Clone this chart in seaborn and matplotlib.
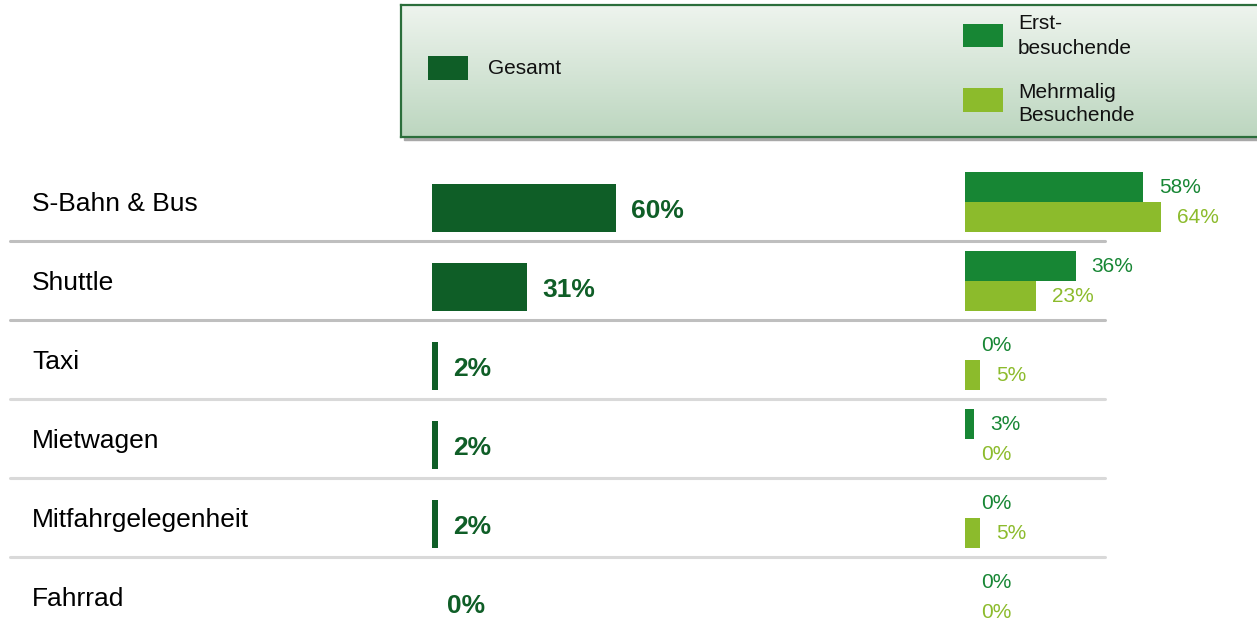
import numpy as np
import pandas as pd
import matplotlib.pyplot as plt
import matplotlib.transforms as mtransforms
from matplotlib.patches import Rectangle
from matplotlib.lines import Line2D
from matplotlib.colors import LinearSegmentedColormap
import seaborn as sns

# daten
kategorien = ['S-Bahn & Bus', 'Shuttle', 'Taxi', 'Mietwagen', 'Mitfahrgelegenheit', 'Fahrrad']
gesamt = [60, 31, 2, 2, 2, 0]
erst = [58, 36, 0, 3, 0, 0]
mehrmalig = [64, 23, 5, 0, 5, 0]
gruppen = ['Erstbesuchende', 'Mehrmalig Besuchende']

c_gesamt = '#0f5e27'
c_erst = '#178634'
c_mehr = '#8cbb2c'

W, H = 1257, 633
sns.set_theme(style='white')
plt.rcParams['font.family'] = ['Liberation Sans', 'DejaVu Sans']

fig = plt.figure(figsize=(W / 100, H / 100), dpi=100)


def px_axes(left, top, right, bottom):
    # axes in pixel coordinates of the figure
    return fig.add_axes([left / W, 1 - bottom / H, (right - left) / W, (bottom - top) / H])


px = 3.07  # pixel pro prozent

############ Gesamt ############
ax1 = px_axes(432, 160, 832, 633)
sns.barplot(x=gesamt, y=kategorien, orient='h', color=c_gesamt, width=0.61,
            linewidth=0, saturation=1, ax=ax1)
ax1.set_xlim(0, 400 / px)
ax1.set_ylim(5.38, -0.607)
ax1.axis('off')

for i, v in enumerate(gesamt):
    ax1.annotate(f'{v}%', (v, i + 0.04), xytext=(10.8, 0), textcoords='offset points',
                 va='center', ha='left', fontsize=19, fontweight='bold', color=c_gesamt,
                 annotation_clip=False)

trans = mtransforms.blended_transform_factory(fig.transFigure, ax1.transData)
for i, k in enumerate(kategorien):
    ax1.text(32 / W, i - 0.05, k, transform=trans, va='center', ha='left',
             fontsize=19, color='#000000')

# trennlinien
for i in range(len(kategorien) - 1):
    farbe = '#bfbfbf' if i < 2 else '#d9d9d9'
    ax1.add_line(Line2D([10 / W, 1105 / W], [i + 0.42] * 2, transform=trans,
                        color=farbe, lw=2.2, clip_on=False))

############ Erst / Mehrmalig ############
df = pd.DataFrame({'Kategorie': kategorien * 2,
                   'Gruppe': [gruppen[0]] * len(erst) + [gruppen[1]] * len(mehrmalig),
                   'Wert': erst + mehrmalig})
ax2 = px_axes(965, 160, 1257, 633)
sns.barplot(data=df, x='Wert', y='Kategorie', hue='Gruppe', hue_order=gruppen,
            palette=[c_erst, c_mehr], orient='h', width=0.76, linewidth=0,
            saturation=1, legend=False, ax=ax2)
ax2.set_xlim(0, 292 / px)
ax2.set_ylim(5.455, -0.532)
ax2.axis('off')

for i in range(len(kategorien)):
    for werte, farbe, dy in [(erst, c_erst, -0.19), (mehrmalig, c_mehr, 0.19)]:
        ax2.annotate(f'{werte[i]}%', (werte[i], i + dy + 0.01), xytext=(11.5, 0),
                     textcoords='offset points', va='center', ha='left', fontsize=15,
                     color=farbe, annotation_clip=False)

############ Legende ############
shadow = Rectangle((404 / W, 1 - 140 / H), (W - 404) / W, 132 / H,
                   transform=fig.transFigure, color='#a8a8a8', zorder=-1)
fig.add_artist(shadow)

lg = px_axes(401, 5, 1262, 137)
grad = np.linspace(0, 1, 256).reshape(-1, 1)
cmap = LinearSegmentedColormap.from_list('lg', ['#eef4ee', '#bcd6bf'])
lg.imshow(grad, aspect='auto', cmap=cmap, extent=[0, 861, 132, 0])
lg.set_xlim(0, 861)
lg.set_ylim(132, 0)
lg.set_xticks([])
lg.set_yticks([])
for s in lg.spines.values():
    s.set_color('#2b6e3b')
    s.set_linewidth(1.6)

lg.add_patch(Rectangle((27, 51), 40, 24, color=c_gesamt, lw=0))
lg.text(87, 64, 'Gesamt', va='center', ha='left', fontsize=15, color='#111111')
lg.add_patch(Rectangle((562, 19), 40, 23, color=c_erst, lw=0))
lg.text(617, 31, 'Erst-\nbesuchende', va='center', ha='left', fontsize=15,
        color='#111111', linespacing=1.35)
lg.add_patch(Rectangle((562, 83), 40, 24, color=c_mehr, lw=0))
lg.text(617, 99, 'Mehrmalig\nBesuchende', va='center', ha='left', fontsize=15,
        color='#111111', linespacing=1.3)

plt.savefig('out.png', dpi=100)
